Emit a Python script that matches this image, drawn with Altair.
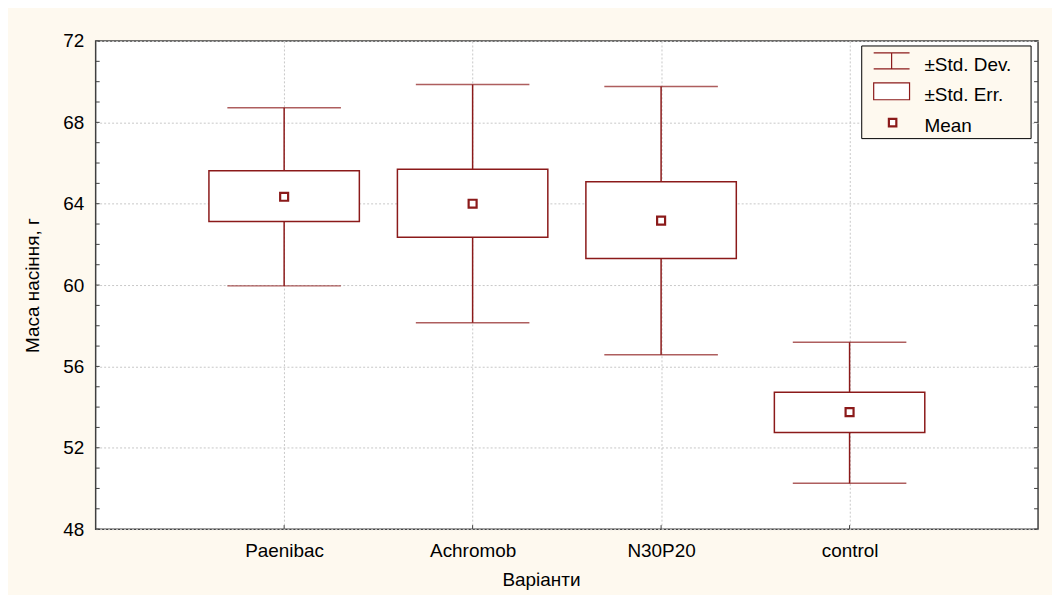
import altair as alt
import pandas as pd

categories = ["Paenibac", "Achromob", "N30P20", "control"]
means = [64.34, 64.00, 63.17, 53.75]
se_low = [63.12, 62.35, 61.31, 52.75]
se_high = [65.62, 65.70, 65.08, 54.73]
sd_low = [59.96, 58.15, 56.57, 50.25]
sd_high = [68.72, 69.86, 69.76, 57.19]

y_major = [48, 52, 56, 60, 64, 68, 72]
y_minor = [48, 49, 50, 51, 52, 53, 54, 55, 56, 57, 58, 59, 60,
           61, 62, 63, 64, 65, 66, 67, 68, 69, 70, 71, 72]

legend_labels = ["±Std. Dev.", "±Std. Err.", "Mean"]

RED = "#8b1a1a"
CREAM = "#fef9ef"
FONT = "Liberation Sans"
FS = 19
W, H = 946, 490

df = pd.DataFrame({
    "cat": categories, "mean": means,
    "se_lo": se_low, "se_hi": se_high,
    "sd_lo": sd_low, "sd_hi": sd_high,
})
ticks_df = pd.DataFrame({"v": y_minor})

xenc = alt.X(
    "cat:N",
    sort=categories,
    scale=alt.Scale(type="point", padding=1, domain=categories),
    axis=alt.Axis(
        title="Варіанти", ticks=False, domain=False, labelAngle=0,
        labelPadding=12, titlePadding=11, titleX=447, titleAnchor="start",
        titleAlign="center",
        grid=True, gridDash=[2, 2], gridColor="#c8c8c8",
    ),
)
yscale = alt.Scale(domain=[48, 72], nice=False, zero=False)
yaxis = alt.Axis(
    title="Маса насіння, г", values=y_major, ticks=False, domain=False,
    labelPadding=12, titlePadding=20,
    grid=True, gridDash=[2, 2], gridColor="#c8c8c8",
)

base = alt.Chart(df)

whisker = base.mark_rule(color=RED, strokeWidth=1.5).encode(
    x=xenc, y=alt.Y("sd_lo:Q", scale=yscale, axis=yaxis), y2="sd_hi:Q"
)
cap_hi = base.mark_tick(color=RED, size=114, thickness=1.5).encode(
    x="cat:N", y="sd_hi:Q"
)
cap_lo = base.mark_tick(color=RED, size=114, thickness=1.5).encode(
    x="cat:N", y="sd_lo:Q"
)
box = base.mark_bar(fill="white", stroke=RED, strokeWidth=1.5, size=151).encode(
    x="cat:N", y="se_lo:Q", y2="se_hi:Q"
)
mean_pt = base.mark_square(
    size=64, filled=True, fill="white", stroke=RED, strokeWidth=2.2, opacity=1
).encode(x="cat:N", y="mean:Q")

bottom_ticks = base.mark_rule(color="#404040", strokeWidth=1).encode(
    x="cat:N", y=alt.value(H), y2=alt.value(H - 4)
)
left_ticks = alt.Chart(ticks_df).mark_rule(color="#404040", strokeWidth=1).encode(
    x=alt.value(0), x2=alt.value(4), y=alt.Y("v:Q", scale=yscale)
)
right_ticks = alt.Chart(ticks_df).mark_rule(color="#404040", strokeWidth=1).encode(
    x=alt.value(W - 4), x2=alt.value(W), y=alt.Y("v:Q", scale=yscale)
)

one = alt.Data(values=[{"k": 1}])
lg_box = alt.Chart(one).mark_rect(fill=CREAM, stroke="#000000", strokeWidth=1).encode(
    x=alt.value(769), x2=alt.value(939), y=alt.value(5), y2=alt.value(98)
)
lg_sd_top = alt.Chart(one).mark_rule(color=RED, strokeWidth=1.2).encode(
    x=alt.value(781), x2=alt.value(817), y=alt.value(12)
)
lg_sd_bot = alt.Chart(one).mark_rule(color=RED, strokeWidth=1.2).encode(
    x=alt.value(781), x2=alt.value(817), y=alt.value(28)
)
lg_sd_mid = alt.Chart(one).mark_rule(color=RED, strokeWidth=1.2).encode(
    x=alt.value(799), y=alt.value(12), y2=alt.value(28)
)
lg_se = alt.Chart(one).mark_rect(fill="white", stroke=RED, strokeWidth=1.2).encode(
    x=alt.value(781), x2=alt.value(817), y=alt.value(42), y2=alt.value(59)
)
lg_mean = alt.Chart(one).mark_square(
    size=56, filled=True, fill="white", stroke=RED, strokeWidth=2.2, opacity=1
).encode(x=alt.value(800), y=alt.value(82))

def lg_text(label, ybase):
    return alt.Chart(one).mark_text(
        align="left", baseline="alphabetic", font=FONT, fontSize=FS, color="#000000"
    ).encode(x=alt.value(832), y=alt.value(ybase), text=alt.value(label))

chart = alt.layer(
    whisker, cap_hi, cap_lo, box, mean_pt,
    bottom_ticks, left_ticks, right_ticks,
    lg_box, lg_sd_top, lg_sd_bot, lg_sd_mid, lg_se, lg_mean,
    lg_text(legend_labels[0], 30), lg_text(legend_labels[1], 60),
    lg_text(legend_labels[2], 91),
).properties(
    width=W, height=H,
    padding={"left": 88, "top": 32, "right": 14, "bottom": 65},
    autosize="none",
).configure(
    background=CREAM,
).configure_view(
    fill="white", stroke="#404040", strokeWidth=1.5,
).configure_axis(
    labelFont=FONT, labelFontSize=FS, labelColor="#000000",
    titleFont=FONT, titleFontSize=FS, titleFontWeight="normal", titleColor="#000000",
)

chart.save("out.html", embed_options={"renderer": "svg", "actions": False})
